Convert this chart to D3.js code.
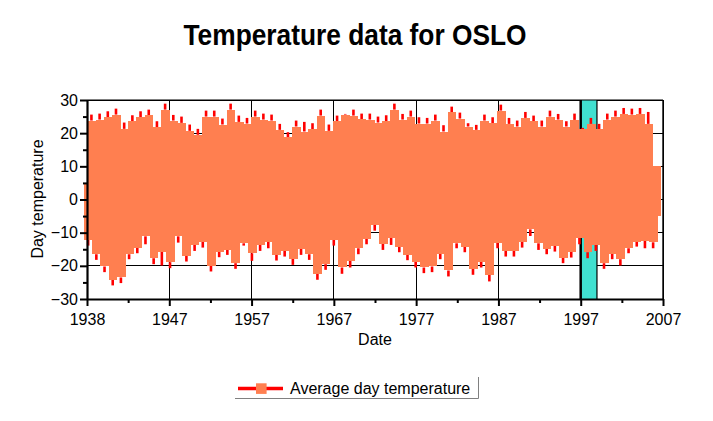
<!DOCTYPE html>
<html><head><meta charset="utf-8">
<script src="https://cdn.jsdelivr.net/npm/d3@7"></script>
<style>
body{margin:0;background:#fff}
svg{display:block}
text{font-family:"Liberation Sans",Arial,Helvetica,sans-serif;fill:#000}
</style>
</head><body>
<svg id="chart" width="713" height="421"></svg>
<script>
// ---------------- data ----------------
const chartTitle = "Temperature data for OSLO";
const xTitle = "Date";
const yTitle = "Day temperature";
const seriesName = "Average day temperature";
const xTickLabels = ["1938","1947","1957","1967","1977","1987","1997","2007"];
const yTickValues = [30,20,10,0,-10,-20,-30];
const yMinorValues = [25,15,5,-5,-15,-25];
const recordStart = 1938.04;      // first day of record
const recordEnd = 2006.70;        // last day of record
const highlightStart = 1997.14;   // shaded period
const highlightEnd = 1999.09;

// yearly summer envelope (top of markers) and line peaks, deg C
const summerTop = [23.8,24.1,24.8,25.6,21.3,23.6,24.8,25.4,21.8,27.1,23.8,23.1,20.7,19.5,25.0,25.0,22.6,27.1,23.4,22.9,25.0,24.1,23.8,
  21.0,18.7,22.0,20.5,21.2,25.3,20.7,23.6,25.6,25.3,24.2,24.1,23.2,23.6,27.1,24.1,25.0,22.9,22.9,23.8,20.5,26.3,24.4,
  22.0,21.0,23.8,23.0,26.8,22.8,22.0,24.6,23.6,22.0,25.0,24.1,22.0,24.0,21.2,22.8,21.2,24.1,25.0,25.8,25.6,25.8,22.8,10.0];
const summerPeak = [25.6,25.9,26.6,27.4,23.2,25.4,26.6,27.1,23.6,28.9,25.5,25.0,22.6,21.3,26.8,26.8,24.4,28.9,25.3,24.6,26.8,25.9,25.6,
  22.8,20.3,23.8,23.4,23.0,27.1,22.6,25.3,25.8,27.1,25.9,25.9,25.0,25.4,28.9,25.8,26.8,24.8,24.6,25.6,22.4,28.0,26.2,
  23.0,22.5,25.6,24.8,28.6,24.6,23.8,26.4,25.3,23.8,26.8,25.8,23.6,25.9,21.6,24.6,22.8,25.9,26.8,27.6,27.4,27.6,26.4,10.0];
// yearly winter envelope (bottom of markers) and line troughs, deg C
const winterBottom = [-12.2,-16.5,-20.2,-24.2,-23.5,-16.5,-14.5,-11.1,-17.7,-15.7,-18.9,-11.1,-16.9,-13.7,-12.7,-19.9,-15.7,-15.2,-19.2,-13.2,-16.2,-13.7,-12.7,
  -16.7,-15.5,-17.9,-14.9,-16.5,-22.4,-19.5,-12.2,-20.5,-18.5,-14.7,-11.9,-7.6,-13.4,-11.6,-14.2,-16.7,-18.7,-20.5,-20.2,-16.4,-21.4,-13.2,
  -14.2,-20.9,-18.7,-22.7,-13.0,-15.4,-15.4,-12.7,-9.0,-13.2,-14.9,-13.9,-17.5,-15.7,-11.6,-15.9,-13.7,-19.2,-16.4,-18.0,-14.7,-12.7,-12.5,-12.9];
const winterPeak = [-13.9,-18.2,-21.9,-25.9,-25.2,-18.0,-16.2,-13.5,-19.5,-19.9,-20.7,-13.0,-18.7,-15.5,-14.5,-21.7,-17.4,-16.7,-20.9,-13.9,-18.5,-15.5,-14.7,
  -18.4,-17.2,-19.7,-16.7,-18.2,-24.2,-21.2,-13.9,-22.4,-20.5,-16.5,-13.5,-9.4,-15.2,-13.7,-15.9,-18.3,-20.5,-22.2,-21.9,-18.0,-23.2,-14.7,
  -15.9,-22.7,-20.5,-24.7,-14.7,-17.2,-17.2,-14.5,-11.0,-15.2,-16.5,-15.7,-19.2,-17.5,-13.5,-17.7,-15.5,-20.9,-18.0,-19.9,-16.2,-14.2,-14.7,-14.7];

// ---------------- chart ----------------
const lineColor = "#ff0000", markColor = "#ff7f50", bandColor = "#40e0d0";
const svg = d3.select("#chart");
const L = 87, R = 663, T = 100, B = 299;
const x = d3.scaleLinear().domain([1938, 2007]).range([L, R]);
const y = d3.scaleLinear().domain([-30, 30]).range([B, T]);
const xTickValues = xTickLabels.map((d, i) => 1938 + i * (2007 - 1938) / (xTickLabels.length - 1));
const xMinorValues = d3.range(xTickValues.length - 1).map(i => (xTickValues[i] + xTickValues[i + 1]) / 2);

// title
svg.append("text").attr("x", 355).attr("y", 45).attr("text-anchor", "middle")
  .attr("font-size", 30).attr("font-weight", "bold")
  .attr("textLength", 343).attr("lengthAdjust", "spacingAndGlyphs").text(chartTitle);

// grid
const grid = svg.append("g").attr("stroke", "#000").attr("stroke-width", 1).attr("shape-rendering", "crispEdges");
grid.selectAll("line.v").data(xTickValues).join("line").attr("class", "v")
  .attr("x1", d => x(d)).attr("x2", d => x(d)).attr("y1", T).attr("y2", B);
grid.selectAll("line.h").data(yTickValues).join("line").attr("class", "h")
  .attr("x1", L).attr("x2", R).attr("y1", d => y(d)).attr("y2", d => y(d));

// highlight band
svg.append("rect").attr("x", x(highlightStart)).attr("y", T)
  .attr("width", x(highlightEnd) - x(highlightStart)).attr("height", B - T)
  .attr("fill", bandColor).attr("shape-rendering", "crispEdges");
svg.append("line").attr("x1", x(highlightStart)).attr("x2", x(highlightStart)).attr("y1", T).attr("y2", B)
  .attr("stroke", "#000").attr("stroke-width", 2.5);
svg.append("line").attr("x1", x(highlightEnd)).attr("x2", x(highlightEnd)).attr("y1", T).attr("y2", B)
  .attr("stroke", "#000").attr("stroke-width", 1.2);

// series
const n = summerTop.length;
const period = (recordEnd - recordStart) / n;
const idx = d3.range(n);
const data = svg.append("g");
// line extremes (red) behind markers
data.selectAll("line.sp").data(idx).join("line").attr("class", "sp")
  .attr("x1", i => x(recordStart + (i + 0.5) * period)).attr("x2", i => x(recordStart + (i + 0.5) * period))
  .attr("y1", i => y(summerTop[i])).attr("y2", i => y(summerPeak[i]))
  .attr("stroke", lineColor).attr("stroke-width", 2.6);
data.selectAll("line.wp").data(idx).join("line").attr("class", "wp")
  .attr("x1", i => x(recordStart + (i + 0.1) * period)).attr("x2", i => x(recordStart + (i + 0.1) * period))
  .attr("y1", i => y(winterBottom[i])).attr("y2", i => y(winterPeak[i]))
  .attr("stroke", lineColor).attr("stroke-width", 2.6);
// markers envelope (orange)
data.selectAll("rect.s").data(idx).join("rect").attr("class", "s")
  .attr("x", i => x(recordStart + i * period)).attr("width", x(recordStart + period) - x(recordStart) + 0.6)
  .attr("y", i => y(summerTop[i])).attr("height", i => y(-5) - y(summerTop[i]))
  .attr("fill", markColor).attr("shape-rendering", "crispEdges");
data.selectAll("rect.w").data(idx).join("rect").attr("class", "w")
  .attr("x", i => x(recordStart + (i - 0.4) * period)).attr("width", x(recordStart + period) - x(recordStart) + 0.6)
  .attr("y", y(5)).attr("height", i => y(winterBottom[i]) - y(5))
  .attr("fill", markColor).attr("shape-rendering", "crispEdges");

// frame top/right
svg.append("line").attr("x1", L).attr("x2", R).attr("y1", T).attr("y2", T).attr("stroke", "#000").attr("stroke-width", 1.2);
svg.append("line").attr("x1", R).attr("x2", R).attr("y1", T).attr("y2", B).attr("stroke", "#000").attr("stroke-width", 1.4);

// axes
function styleAxis(g) {
  g.attr("font-family", null);
  g.select(".domain").attr("stroke", "#000").attr("stroke-width", 2.2);
  g.selectAll(".tick line").attr("stroke", "#000").attr("stroke-width", 2);
  g.selectAll(".tick text").attr("font-size", 16).attr("fill", "#000")
    .style("font-family", '"Liberation Sans",Arial,sans-serif');
}
svg.append("g").attr("transform", `translate(${L},0)`)
  .call(d3.axisLeft(y).tickValues(yTickValues).tickSize(7).tickSizeOuter(0).tickPadding(2)).call(styleAxis);
svg.append("g").attr("transform", `translate(${L},0)`)
  .call(d3.axisLeft(y).tickValues(yMinorValues).tickSize(4).tickSizeOuter(0).tickFormat(""))
  .call(g => { g.select(".domain").remove(); g.selectAll(".tick line").attr("stroke", "#000").attr("stroke-width", 2); });
svg.append("g").attr("transform", `translate(0,${B})`)
  .call(d3.axisBottom(x).tickValues(xTickValues).tickFormat((d, i) => xTickLabels[i]).tickSize(7).tickSizeOuter(0).tickPadding(7.5))
  .call(styleAxis);
svg.append("g").attr("transform", `translate(0,${B})`)
  .call(d3.axisBottom(x).tickValues(xMinorValues).tickSize(4).tickSizeOuter(0).tickFormat(""))
  .call(g => { g.select(".domain").remove(); g.selectAll(".tick line").attr("stroke", "#000").attr("stroke-width", 2); });

// axis titles
svg.append("text").attr("x", (L + R) / 2).attr("y", 345).attr("text-anchor", "middle").attr("font-size", 16).text(xTitle);
svg.append("text").attr("transform", "translate(43,199) rotate(-90)").attr("text-anchor", "middle").attr("font-size", 16).text(yTitle);

// legend
const lg = svg.append("g");
lg.append("line").attr("x1", 235).attr("x2", 478.5).attr("y1", 398.5).attr("y2", 398.5).attr("stroke", "#808080");
lg.append("line").attr("x1", 478.5).attr("x2", 478.5).attr("y1", 377).attr("y2", 398.5).attr("stroke", "#808080");
lg.append("line").attr("x1", 238).attr("x2", 283).attr("y1", 388.5).attr("y2", 388.5).attr("stroke", lineColor).attr("stroke-width", 3.4);
lg.append("rect").attr("x", 256).attr("y", 383.3).attr("width", 10.6).attr("height", 10.6).attr("fill", markColor);
lg.append("text").attr("x", 290).attr("y", 394).attr("font-size", 16).text(seriesName);
</script>
</body></html>
